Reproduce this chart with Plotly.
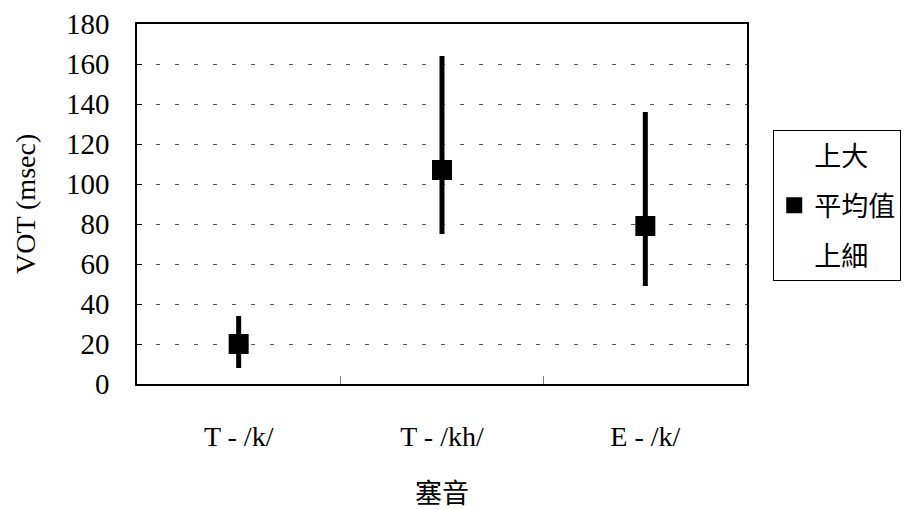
import plotly.graph_objects as go

categories = ["T - /k/", "T - /kh/", "E - /k/"]
high_vals = [34, 164, 136]
mean_vals = [20, 107, 79]
low_vals = [8, 75, 49]
y_ticks = [0, 20, 40, 60, 80, 100, 120, 140, 160, 180]

FONT = "Liberation Serif, Noto Sans CJK TC"

fig = go.Figure()

# vertical high-low lines built from the data
lx, ly = [], []
for c, lo, hi in zip(categories, low_vals, high_vals):
    lx += [c, c, None]
    ly += [lo, hi, None]
fig.add_trace(go.Scatter(x=lx, y=ly, mode="lines", line=dict(color="black", width=5),
                         showlegend=False, hoverinfo="skip"))

fig.add_trace(go.Scatter(x=categories, y=high_vals, mode="markers", name="上大",
                         marker=dict(symbol="square", size=16, color="rgba(0,0,0,0)"),
                         legendgroup="a"))
fig.add_trace(go.Scatter(x=categories, y=mean_vals, mode="markers", name="平均值",
                         marker=dict(symbol="square", size=20, color="black"),
                         legendgroup="b"))
fig.add_trace(go.Scatter(x=categories, y=low_vals, mode="markers", name="上細",
                         marker=dict(symbol="square", size=16, color="rgba(0,0,0,0)"),
                         legendgroup="c"))

fig.update_layout(
    width=903, height=501,
    margin=dict(l=129, r=164, t=16, b=125, autoexpand=False),
    paper_bgcolor="white", plot_bgcolor="white",
    font=dict(family=FONT, size=29, color="black"),
    showlegend=True,
    legend=dict(x=1.043, y=0.7056, xanchor="left", yanchor="top",
                bordercolor="black", borderwidth=1, bgcolor="white",
                font=dict(size=27), tracegroupgap=12, itemsizing="trace"),
    annotations=[dict(text="VOT (msec)", textangle=-90, xref="paper", yref="paper",
                      x=-0.1836, y=0.5, xanchor="center", yanchor="middle",
                      showarrow=False, font=dict(size=28))],
)

fig.update_xaxes(
    type="category", categoryorder="array", categoryarray=categories,
    range=[-0.5, 2.5], automargin=False,
    showline=True, linecolor="black", linewidth=1.5, mirror=True,
    ticks="inside", tickson="boundaries", ticklen=8, tickcolor="#808080",
    showgrid=False, tickfont=dict(size=28), ticklabelstandoff=27,
    title=dict(text="塞音", font=dict(size=27), standoff=36),
)
fig.update_yaxes(
    range=[0, 180], tickvals=y_ticks, ticktext=[str(v) for v in y_ticks],
    automargin=False,
    showline=True, linecolor="black", linewidth=1.5, mirror=True,
    ticks="inside", ticklen=5, tickcolor="black",
    showgrid=True, gridcolor="#555555", gridwidth=1, griddash="4px,15px",
    zeroline=False, tickfont=dict(size=29), ticklabelstandoff=20,
)

fig.write_html("out.html")
